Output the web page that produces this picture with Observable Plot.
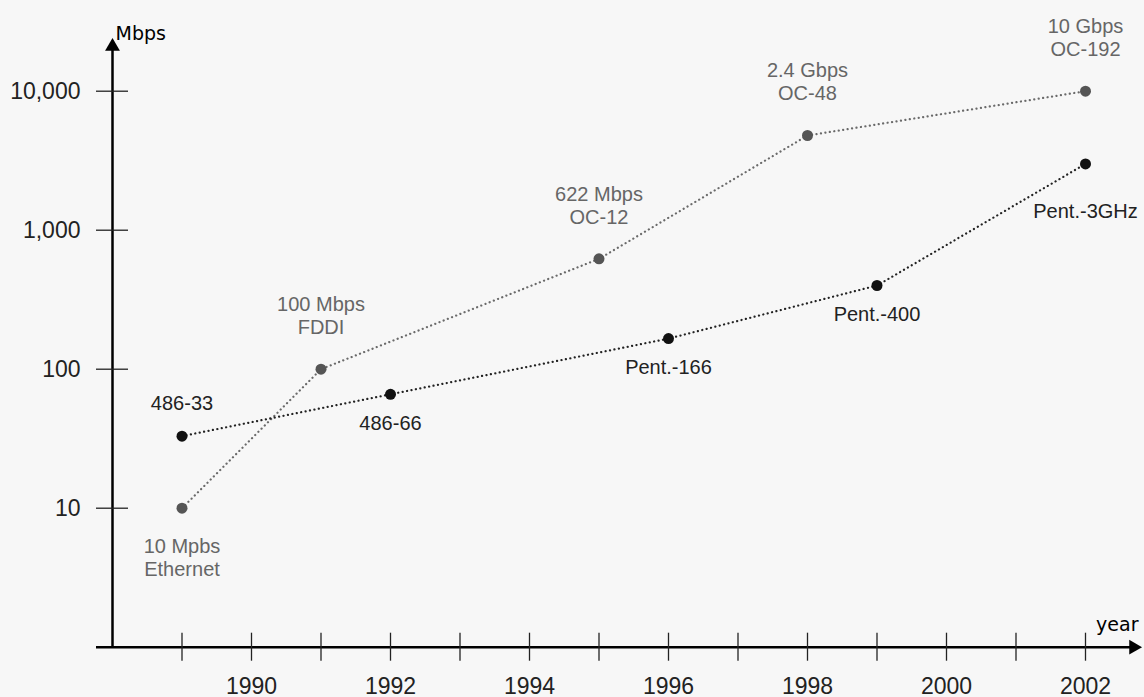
<!DOCTYPE html>
<html><head><meta charset="utf-8">
<script src="https://cdn.jsdelivr.net/npm/d3@7"></script>
<script src="https://cdn.jsdelivr.net/npm/@observablehq/plot@0.6"></script>
<style>
html,body{margin:0;padding:0;background:#f7f7f7;}
#chart{width:1144px;height:697px;}
</style></head><body><div id="chart"></div>
<script>
// Network bandwidth (gray series)
const netYears = [1989, 1991, 1995, 1998, 2002];
const netMbps = [10, 100, 622, 4800, 10000];
const netLabels = ["10 Mpbs\nEthernet", "100 Mbps\nFDDI", "622 Mbps\nOC-12", "2.4 Gbps\nOC-48", "10 Gbps\nOC-192"];
// CPU (black series)
const cpuYears = [1989, 1992, 1996, 1999, 2002];
const cpuMbps = [33, 66, 166, 400, 3000];
const cpuLabels = ["486-33", "486-66", "Pent.-166", "Pent.-400", "Pent.-3GHz"];
// Axes
const yearTicks = [1989, 1990, 1991, 1992, 1993, 1994, 1995, 1996, 1997, 1998, 1999, 2000, 2001, 2002];
const yearLabels = [1990, 1992, 1994, 1996, 1998, 2000, 2002];
const mbpsTicks = [10, 100, 1000, 10000];
const xAxisTitle = "year";
const yAxisTitle = "Mbps";

const net = netYears.map((y, i) => ({year: y, mbps: netMbps[i], label: netLabels[i]}));
const cpu = cpuYears.map((y, i) => ({year: y, mbps: cpuMbps[i], label: cpuLabels[i]}));

// label placement groups (layout logic)
const netBelow = new Set(["10 Mpbs\nEthernet"]);
const cpuAbove = new Set(["486-33"]);
const cpuFar = new Set(["Pent.-3GHz"]);

const xDomain = [1988, 2002], xRange = [112, 1085];
const yDomain = [10, 10000], yRange = [507.7, 90.7];
const pxPerYear = (xRange[1] - xRange[0]) / (xDomain[1] - xDomain[0]);
const pxPerDecade = (yRange[0] - yRange[1]) / 3;
const yAt = px => 10 ** (px / pxPerDecade);   // offset from y=1 in px → value
const xAt = px => xDomain[0] + px / pxPerYear; // offset from axis in px → year

const yBase = 1;
const yTop = 10 ** (4 + (yRange[1] - 39) / pxPerDecade);
const xRight = xAt(1140 - xRange[0]);
const xLeft = xAt(96 - xRange[0]);

const labelFont = "Liberation Sans, Arial, sans-serif";

const chart = Plot.plot({
  width: 1144,
  height: 697,
  marginLeft: 112,
  marginRight: 4,
  marginTop: 0,
  marginBottom: 50,
  style: {background: "#f7f7f7", fontFamily: labelFont, overflow: "visible"},
  x: {domain: xDomain, range: xRange},
  y: {type: "log", domain: yDomain, range: yRange},
  marks: [
    // axis lines
    Plot.ruleY([yBase], {x1: xLeft, x2: xAt(1130 - xRange[0]), stroke: "#000", strokeWidth: 2.5}),
    Plot.ruleX([xDomain[0]], {y1: yBase, y2: yAt(646.7 - 50), stroke: "#000", strokeWidth: 2.5}),
    Plot.dot([0], {x: xRight - 7 / pxPerYear, y: yBase, symbol: "triangle", rotate: 90, r: 5.5, fill: "#000"}),
    Plot.dot([0], {x: xDomain[0], y: yTop / yAt(7), symbol: "triangle", rotate: 0, r: 5.5, fill: "#000"}),
    // ticks crossing the axes
    Plot.ruleX(yearTicks, {x: d => d, y1: yAt(-14), y2: yAt(14), stroke: "#222", strokeWidth: 1.3}),
    Plot.ruleY(mbpsTicks, {y: d => d, x1: xAt(-16), x2: xAt(16), stroke: "#222", strokeWidth: 1.3}),
    // tick labels
    Plot.axisX({ticks: yearLabels, tickSize: 0, tickPadding: 30, tickFormat: d => String(d), fontSize: 23, fill: "#222", label: null}),
    Plot.axisY({ticks: mbpsTicks, tickSize: 0, tickPadding: 32, tickFormat: d3.format(","), fontSize: 23, fill: "#222", label: null}),
    // axis titles
    Plot.text([yAxisTitle], {frameAnchor: "top-left", dx: 3, dy: 26, text: d => d, fontSize: 19, fontFamily: "DejaVu Sans, Verdana, sans-serif", fill: "#000"}),
    Plot.text([xAxisTitle], {frameAnchor: "bottom-right", dx: -2, dy: -17, textAnchor: "end", text: d => d, fontSize: 19, fontFamily: "DejaVu Sans, Verdana, sans-serif", fill: "#000"}),
    // series lines
    Plot.line(net, {x: "year", y: "mbps", stroke: "#6a6a6a", strokeWidth: 2.2, strokeDasharray: "0.1,4.4", strokeLinecap: "round"}),
    Plot.line(cpu, {x: "year", y: "mbps", stroke: "#222", strokeWidth: 2.2, strokeDasharray: "0.1,4.4", strokeLinecap: "round"}),
    Plot.dot(net, {x: "year", y: "mbps", r: 5.5, fill: "#555"}),
    Plot.dot(cpu, {x: "year", y: "mbps", r: 5.5, fill: "#111"}),
    // point labels
    Plot.text(net.filter(d => !netBelow.has(d.label)), {x: "year", y: "mbps", text: "label", dy: -54, lineHeight: 1.15, fontSize: 20, fill: "#666"}),
    Plot.text(net.filter(d => netBelow.has(d.label)), {x: "year", y: "mbps", text: "label", dy: 49, lineHeight: 1.15, fontSize: 20, fill: "#666"}),
    Plot.text(cpu.filter(d => cpuAbove.has(d.label)), {x: "year", y: "mbps", text: "label", dy: -33, fontSize: 20, fill: "#222"}),
    Plot.text(cpu.filter(d => cpuFar.has(d.label)), {x: "year", y: "mbps", text: "label", dy: 48, fontSize: 20, fill: "#222"}),
    Plot.text(cpu.filter(d => !cpuAbove.has(d.label) && !cpuFar.has(d.label)), {x: "year", y: "mbps", text: "label", dy: 29, fontSize: 20, fill: "#222"})
  ]
});
document.getElementById("chart").appendChild(chart);
</script></body></html>
